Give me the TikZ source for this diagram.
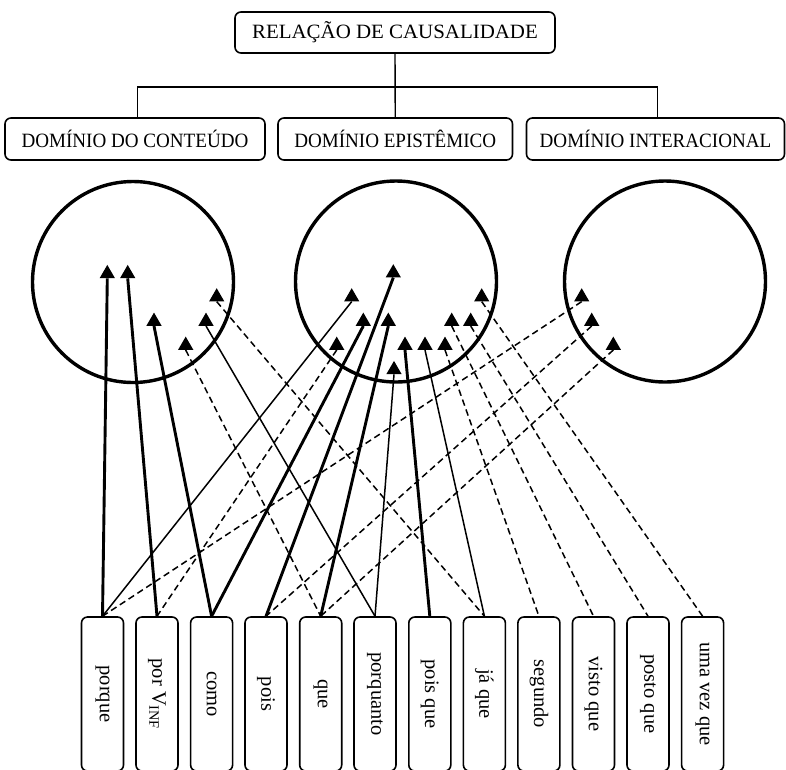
\documentclass[tikz,border=0pt]{standalone}
\usepackage{fontspec}
\setmainfont{Liberation Serif}
\newfontfamily\condserif[FakeStretch=0.94]{Liberation Serif}
\newfontfamily\wideserif[FakeStretch=1.03]{Liberation Serif}
\usetikzlibrary{shapes.geometric}
\begin{document}
\begin{tikzpicture}[x=1pt,y=-1pt,
  box/.style={draw, line width=1.6pt, rounded corners=6pt, inner sep=0pt},
  topbox/.style={box, minimum width=320pt, minimum height=41pt, font=\wideserif\fontsize{20.3}{24}\selectfont},
  dombox/.style={box, minimum height=42pt, font=\condserif\fontsize{20.3}{24}\selectfont},
  wordbox/.style={box, minimum width=42pt, minimum height=154pt},
  word/.style={rotate=-90, inner sep=0pt, font=\fontsize{20.5}{24}\selectfont},
  tri/.style={regular polygon, regular polygon sides=3, fill=black, minimum size=17.6pt, inner sep=0pt},
  ring/.style={draw, circle, line width=3.4pt, minimum size=201pt, inner sep=0pt},
  strong/.style={line width=2.9pt},
  weak/.style={line width=1.5pt},
  dsh/.style={line width=1.5pt, dash pattern=on 6.5pt off 4pt},
  tree/.style={line width=1.4pt}
]
\useasboundingbox (0,0) rectangle (786,769);

% hierarchy
\node[topbox] (root) at (395,32.5) {RELAÇÃO DE CAUSALIDADE};
\node[dombox, minimum width=260pt] (d1) at (135,139) {DOMÍNIO DO CONTEÚDO};
\node[dombox, minimum width=234.5pt] (d2) at (395.25,139) {DOMÍNIO EPISTÊMICO};
\node[dombox, minimum width=258pt] (d3) at (655.5,139) {DOMÍNIO INTERACIONAL};
\coordinate (hub) at (395.25,87);
\draw[tree] (root.south) -- (d2.north);
\draw[tree] ([xshift=2.5pt]d1.north) |- (hub) -| ([xshift=2pt]d3.north);

% circles
\node[ring] (c1) at (133,282) {};
\node[ring] (c2) at (396,281.5) {};
\node[ring] (c3) at (665,281.5) {};

% triangles, circle 1
\node[tri] (t1) at (107.3,273.7) {};
\node[tri] (t2) at (127.7,273.7) {};
\node[tri] (t3) at (154,321.4) {};
\node[tri] (t4) at (216.7,297) {};
\node[tri] (t5) at (206,321.4) {};
\node[tri] (t6) at (185.7,345.4) {};
% circle 2
\node[tri] (ta) at (393.3,273) {};
\node[tri] (tb) at (351.7,297) {};
\node[tri] (tc) at (363.3,321.4) {};
\node[tri] (td) at (388.3,321.4) {};
\node[tri] (te) at (336.7,345.4) {};
\node[tri] (tf) at (481.7,297) {};
\node[tri] (tg) at (451.7,321.4) {};
\node[tri] (th) at (470.7,321.4) {};
\node[tri] (ti) at (405,345.4) {};
\node[tri] (tj) at (425,345.4) {};
\node[tri] (tk) at (445,345.4) {};
\node[tri] (tl) at (394,369.7) {};
% circle 3
\node[tri] (tp) at (581.7,297) {};
\node[tri] (tq) at (591.7,321.4) {};
\node[tri] (tr) at (613.3,345.4) {};

% word boxes
\node[wordbox] (w1) at (102.5,694) {};
\node[wordbox] (w2) at (157,694) {};
\node[wordbox] (w3) at (211.6,694) {};
\node[wordbox] (w4) at (266,694) {};
\node[wordbox] (w5) at (320.7,694) {};
\node[wordbox] (w6) at (375,694) {};
\node[wordbox] (w7) at (429.8,694) {};
\node[wordbox] (w8) at (484.4,694) {};
\node[wordbox] (w9) at (538.9,694) {};
\node[wordbox] (w10) at (593.5,694) {};
\node[wordbox] (w11) at (648,694) {};
\node[wordbox] (w12) at (702.6,694) {};
\node[word] (l1) at (w1) {porque};
\node[word] (l2) at (w2) {por V\textsubscript{INF}};
\node[word] (l3) at (w3) {como};
\node[word] (l4) at (w4) {pois};
\node[word] (l5) at (w5) {que};
\node[word] (l6) at (w6) {porquanto};
\node[word] (l7) at (w7) {pois que};
\node[word] (l8) at (w8) {já que};
\node[word] (l9) at (w9) {segundo};
\node[word] (l10) at (w10) {visto que};
\node[word] (l11) at (w11) {posto que};
\node[word] (l12) at (w12) {uma vez que};

% connectors
\draw[strong] (t1.south) -- (w1.north);
\draw[weak] (tb.south) -- (w1.north);
\draw[dsh] (tp.south) -- (w1.north);

\draw[strong] (t2.south) -- (w2.north);
\draw[dsh] (te.south) -- (w2.north);

\draw[strong] (t3.south) -- (w3.north);
\draw[strong] (tc.south) -- (w3.north);

\draw[strong] (ta.south) -- (w4.north);
\draw[dsh] (tq.south) -- (w4.north);

\draw[strong] (td.south) -- (w5.north);
\draw[dsh] (t6.south) -- (w5.north);
\draw[dsh] (tr.south) -- (w5.north);

\draw[weak] (t5.south) -- (w6.north);
\draw[weak] (tl.south) -- (w6.north);

\draw[strong] (ti.south) -- (w7.north);

\draw[dsh] (t4.south) -- (w8.north);
\draw[weak] (tj.south) -- (w8.north);

\draw[dsh] (tk.south) -- (w9.north);
\draw[dsh] (tg.south) -- (w10.north);
\draw[dsh] (th.south) -- (w11.north);
\draw[dsh] (tf.south) -- (w12.north);
\end{tikzpicture}
\end{document}
